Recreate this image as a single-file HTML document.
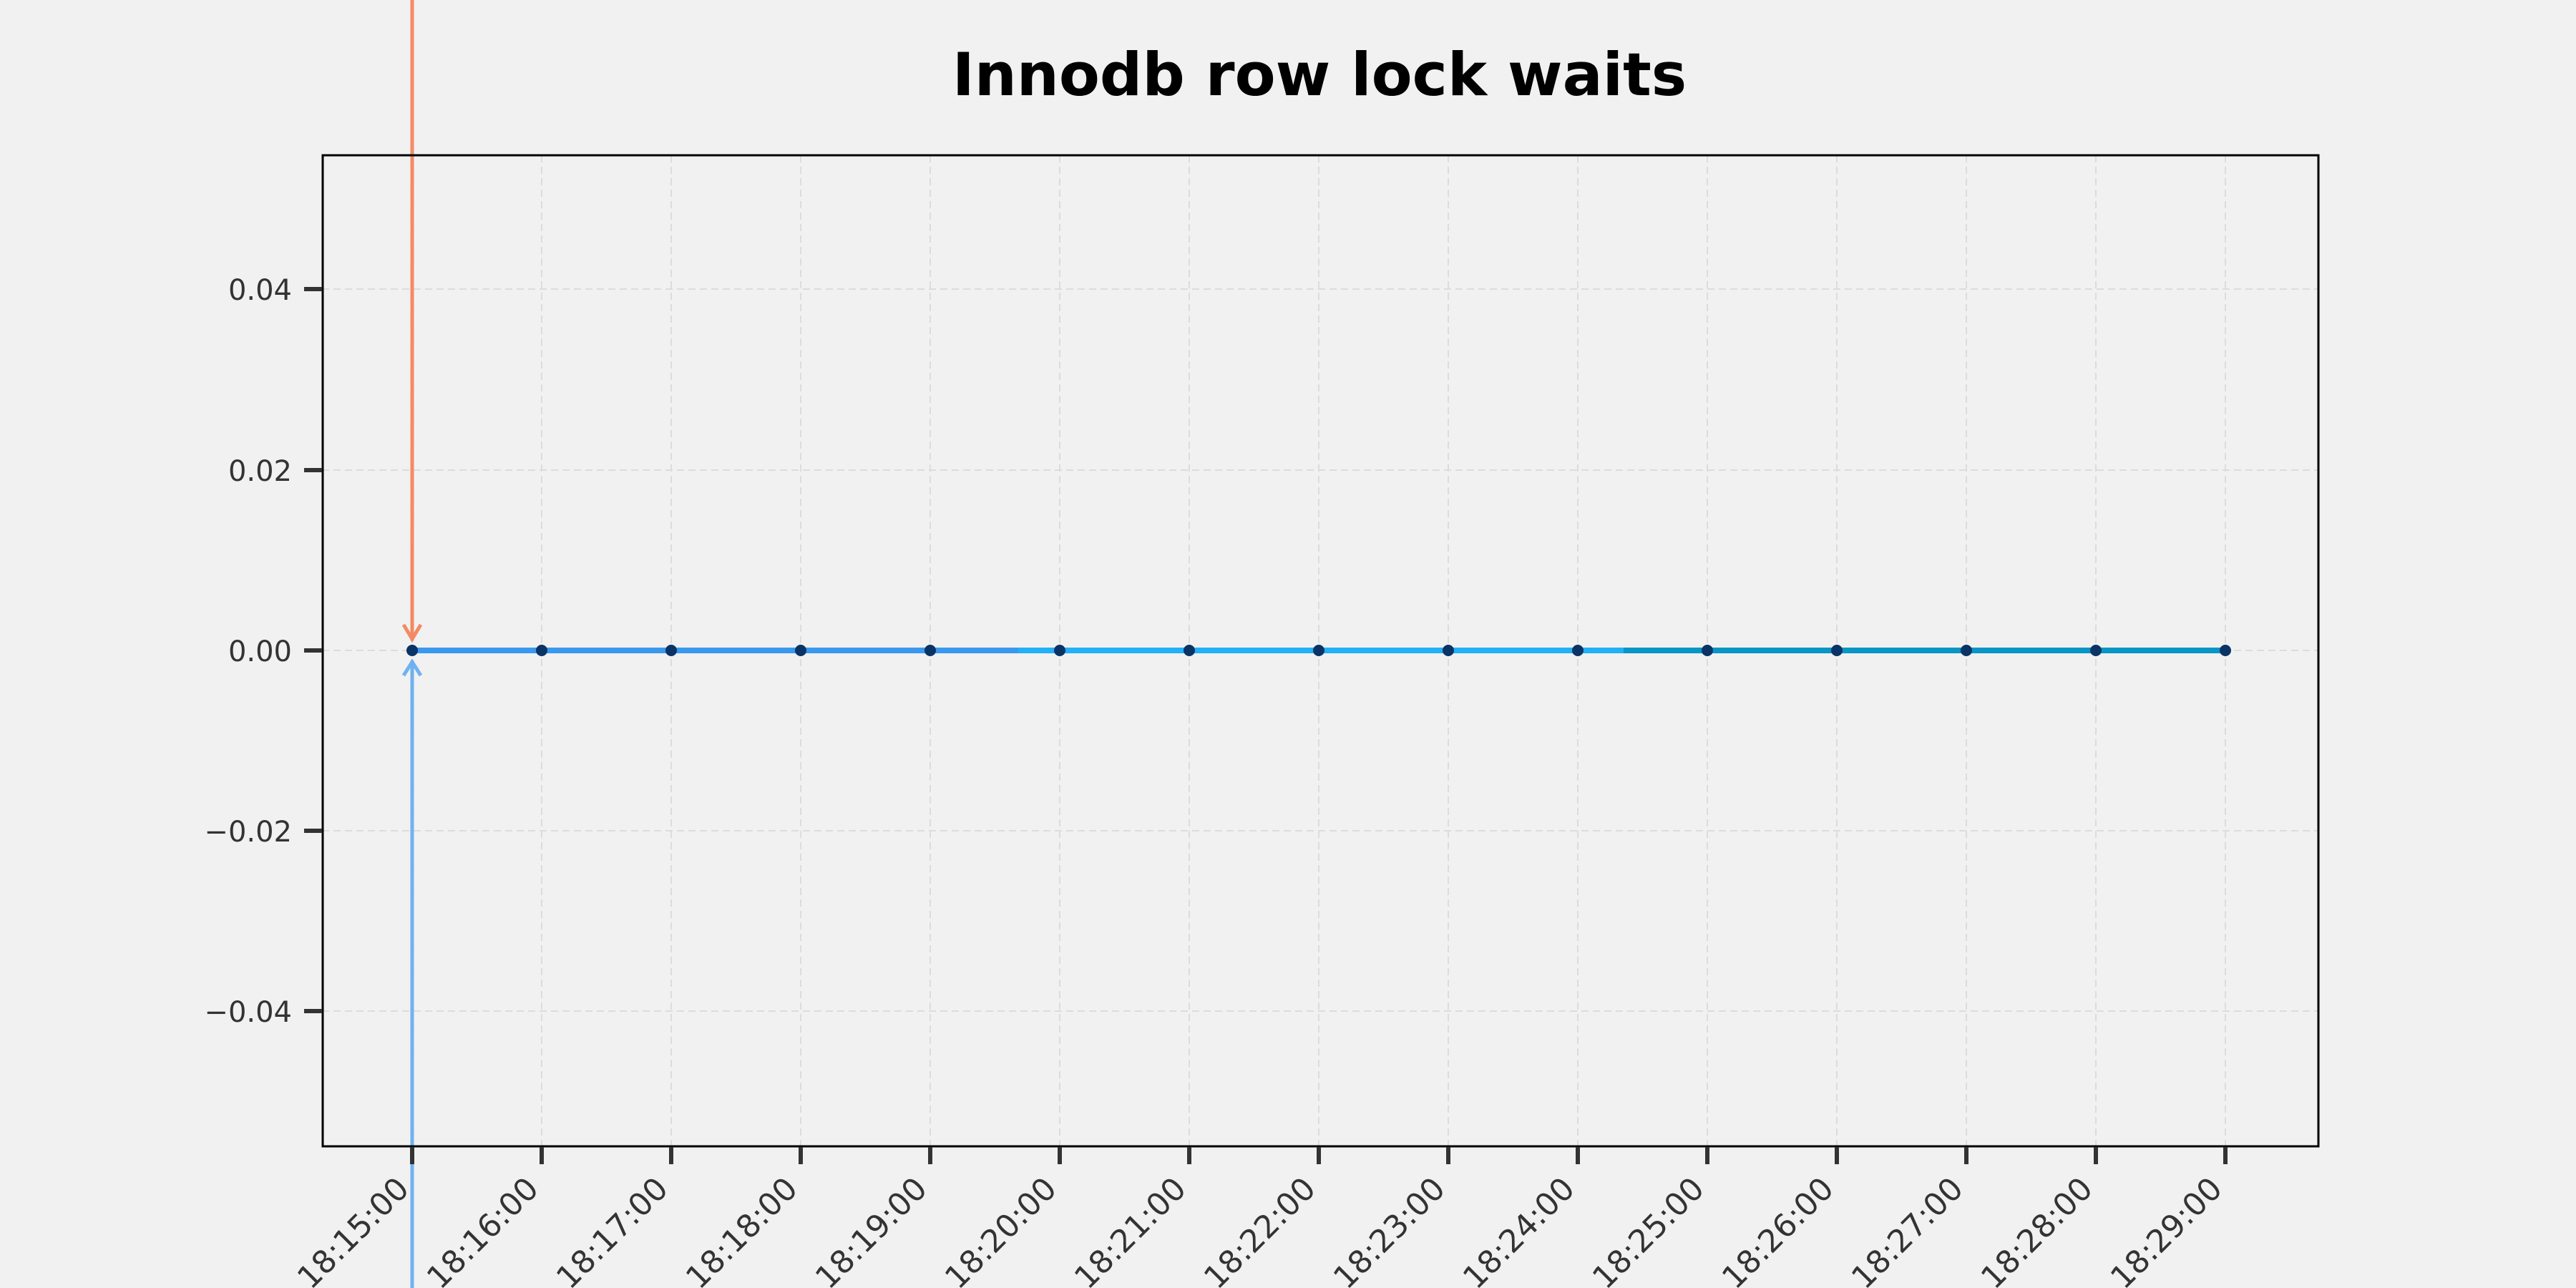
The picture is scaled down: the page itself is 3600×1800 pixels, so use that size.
<!DOCTYPE html>
<html><head><meta charset="utf-8"><style>
html,body{margin:0;padding:0;background:#f1f1f1;}
svg{display:block;}
text{font-family:"DejaVu Sans","Liberation Sans",sans-serif;}
</style></head><body>
<svg width="3600" height="1800" viewBox="0 0 3600 1800" xmlns="http://www.w3.org/2000/svg">
<rect width="3600" height="1800" fill="#f1f1f1"/>
<text x="1844" y="133" text-anchor="middle" font-size="83" font-weight="bold" fill="#000">Innodb row lock waits</text>
<g stroke="#dcdcdc" stroke-width="2" stroke-dasharray="10,6">
<line x1="450" y1="404" x2="3240" y2="404"/>
<line x1="450" y1="657" x2="3240" y2="657"/>
<line x1="450" y1="909" x2="3240" y2="909"/>
<line x1="450" y1="1161" x2="3240" y2="1161"/>
<line x1="450" y1="1413" x2="3240" y2="1413"/>
<line x1="576" y1="217" x2="576" y2="1602"/><line x1="757" y1="217" x2="757" y2="1602"/><line x1="938" y1="217" x2="938" y2="1602"/><line x1="1119" y1="217" x2="1119" y2="1602"/><line x1="1300" y1="217" x2="1300" y2="1602"/><line x1="1481" y1="217" x2="1481" y2="1602"/><line x1="1662" y1="217" x2="1662" y2="1602"/><line x1="1843" y1="217" x2="1843" y2="1602"/><line x1="2024" y1="217" x2="2024" y2="1602"/><line x1="2205" y1="217" x2="2205" y2="1602"/><line x1="2386" y1="217" x2="2386" y2="1602"/><line x1="2567" y1="217" x2="2567" y2="1602"/><line x1="2748" y1="217" x2="2748" y2="1602"/><line x1="2929" y1="217" x2="2929" y2="1602"/><line x1="3110" y1="217" x2="3110" y2="1602"/>
</g>
<g stroke-width="8">
<line x1="576" y1="909" x2="1423" y2="909" stroke="#3a98ee"/>
<line x1="1423" y1="909" x2="2269" y2="909" stroke="#22b0f6"/>
<line x1="2269" y1="909" x2="3110" y2="909" stroke="#0896c6"/>
</g>
<g fill="#0a3366">
<circle cx="576" cy="909" r="8"/><circle cx="757" cy="909" r="8"/><circle cx="938" cy="909" r="8"/><circle cx="1119" cy="909" r="8"/><circle cx="1300" cy="909" r="8"/><circle cx="1481" cy="909" r="8"/><circle cx="1662" cy="909" r="8"/><circle cx="1843" cy="909" r="8"/><circle cx="2024" cy="909" r="8"/><circle cx="2205" cy="909" r="8"/><circle cx="2386" cy="909" r="8"/><circle cx="2567" cy="909" r="8"/><circle cx="2748" cy="909" r="8"/><circle cx="2929" cy="909" r="8"/><circle cx="3110" cy="909" r="8"/>
</g>
<g stroke="#f47f55" stroke-width="5" fill="none" opacity="0.9">
<line x1="576" y1="0" x2="576" y2="895"/>
<polyline points="564,873 576,893 588,873"/>
</g>
<g stroke="#5aa8f2" stroke-width="5" fill="none" opacity="0.85">
<line x1="576" y1="1800" x2="576" y2="923"/>
<polyline points="564,944 576,925 588,944"/>
</g>
<rect x="451" y="217" width="2789" height="1385" fill="none" stroke="#000" stroke-width="3"/>
<g stroke="#333" stroke-width="6">
<line x1="425" y1="404" x2="450" y2="404"/><line x1="425" y1="657" x2="450" y2="657"/><line x1="425" y1="909" x2="450" y2="909"/><line x1="425" y1="1161" x2="450" y2="1161"/><line x1="425" y1="1413" x2="450" y2="1413"/>
<line x1="576" y1="1603" x2="576" y2="1627"/><line x1="757" y1="1603" x2="757" y2="1627"/><line x1="938" y1="1603" x2="938" y2="1627"/><line x1="1119" y1="1603" x2="1119" y2="1627"/><line x1="1300" y1="1603" x2="1300" y2="1627"/><line x1="1481" y1="1603" x2="1481" y2="1627"/><line x1="1662" y1="1603" x2="1662" y2="1627"/><line x1="1843" y1="1603" x2="1843" y2="1627"/><line x1="2024" y1="1603" x2="2024" y2="1627"/><line x1="2205" y1="1603" x2="2205" y2="1627"/><line x1="2386" y1="1603" x2="2386" y2="1627"/><line x1="2567" y1="1603" x2="2567" y2="1627"/><line x1="2748" y1="1603" x2="2748" y2="1627"/><line x1="2929" y1="1603" x2="2929" y2="1627"/><line x1="3110" y1="1603" x2="3110" y2="1627"/>
</g>
<g font-size="40" fill="#333" text-anchor="end">
<text x="408" y="419">0.04</text>
<text x="408" y="672">0.02</text>
<text x="408" y="924">0.00</text>
<text x="408" y="1176">−0.02</text>
<text x="408" y="1428">−0.04</text>
</g>
<g font-size="44" fill="#333" text-anchor="end">
<text transform="translate(574,1664) rotate(-45)">18:15:00</text>
<text transform="translate(755,1664) rotate(-45)">18:16:00</text>
<text transform="translate(936,1664) rotate(-45)">18:17:00</text>
<text transform="translate(1117,1664) rotate(-45)">18:18:00</text>
<text transform="translate(1298,1664) rotate(-45)">18:19:00</text>
<text transform="translate(1479,1664) rotate(-45)">18:20:00</text>
<text transform="translate(1660,1664) rotate(-45)">18:21:00</text>
<text transform="translate(1841,1664) rotate(-45)">18:22:00</text>
<text transform="translate(2022,1664) rotate(-45)">18:23:00</text>
<text transform="translate(2203,1664) rotate(-45)">18:24:00</text>
<text transform="translate(2384,1664) rotate(-45)">18:25:00</text>
<text transform="translate(2565,1664) rotate(-45)">18:26:00</text>
<text transform="translate(2746,1664) rotate(-45)">18:27:00</text>
<text transform="translate(2927,1664) rotate(-45)">18:28:00</text>
<text transform="translate(3108,1664) rotate(-45)">18:29:00</text>
</g>
</svg>
</body></html>
